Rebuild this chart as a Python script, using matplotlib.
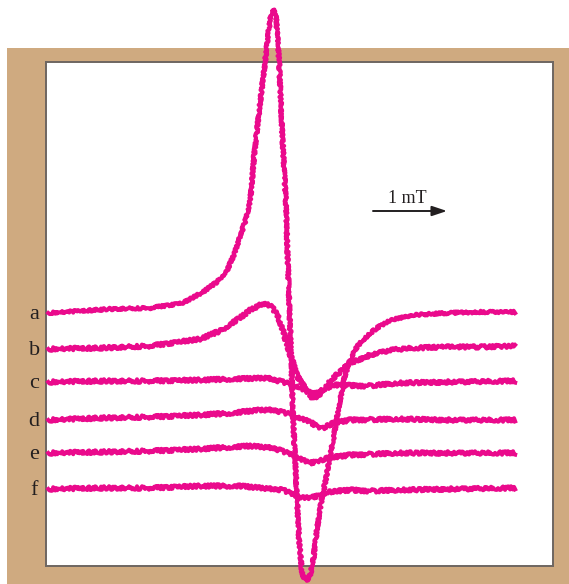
import numpy as np
import matplotlib
matplotlib.use("Agg")
import matplotlib.pyplot as plt
from matplotlib.patches import Rectangle

# Magnetic field (mT, relative) and first-derivative EPR signal (a.u.) for each sample
labels = ["a", "b", "c", "d", "e", "f"]
offsets = [253, 217, 184, 146, 113, 77]

field_a = [0.03, 0.46, 0.86, 1.41, 1.85, 2.12, 2.31, 2.45, 2.55, 2.62, 2.69, 2.76,
           2.82, 2.89, 2.96, 3.00, 3.04, 3.07, 3.11, 3.15, 3.19, 3.24, 3.28, 3.31,
           3.34, 3.38, 3.42, 3.46, 3.50, 3.54, 3.58, 3.62, 3.66, 3.73, 3.78, 3.88,
           3.96, 4.04, 4.11, 4.19, 4.28, 4.47, 4.65, 4.96, 5.42, 5.86, 6.34]
signal_a = [0, 2, 4, 5, 10, 21, 31, 43, 60, 76, 91, 113, 163, 208, 251, 278, 299,
            304, 295, 251, 183, 113, 23, -37, -107, -167, -227, -260, -267, -268,
            -259, -242, -217, -184, -167, -127, -92, -62, -47, -35, -27, -15, -7,
            -2, 0, 1, 1]

field_b = [0.03, 0.73, 1.41, 2.08, 2.35, 2.62, 2.76, 2.92, 3.00, 3.07, 3.14, 3.20,
           3.30, 3.39, 3.53, 3.61, 3.70, 3.88, 4.11, 4.38, 4.65, 4.96, 5.42, 5.86,
           6.34]
signal_b = [0, 1, 3, 10, 18, 31, 39, 45, 45, 40, 32, 19, -5, -27, -41, -50, -45,
            -29, -14, -6, -1, 1, 2, 2, 3]

field_c = [0.03, 0.73, 1.41, 2.08, 2.53, 2.99, 3.20, 3.43, 3.53, 3.61, 3.70, 3.88,
           4.34, 4.78, 5.42, 6.34]
signal_c = [0, 1, 1, 2, 3, 4, 0, -5, -10, -12, -9, -3, -4, -1, 0, 1]

field_d = [0.03, 0.73, 1.41, 2.08, 2.53, 2.89, 3.07, 3.34, 3.57, 3.68, 3.74, 3.88,
           4.11, 4.78, 5.46, 6.34]
signal_d = [0, 2, 3, 5, 7, 10, 10, 5, -2, -7, -8, -3, 0, 1, 0, 0]

field_e = [0.03, 0.73, 1.41, 2.08, 2.76, 3.07, 3.34, 3.50, 3.57, 3.68, 3.80, 4.11,
           4.78, 5.46, 6.34]
signal_e = [0, 1, 2, 4, 7, 5, -2, -8, -10, -8, -5, -2, 0, 0, 0]

field_f = [0.03, 0.73, 1.41, 2.08, 2.62, 2.76, 3.20, 3.43, 3.57, 3.70, 3.80, 4.11,
           4.38, 4.78, 5.46, 6.34]
signal_f = [0, 1, 1, 3, 3, 2, -1, -8, -9, -6, -3, -1, -2, -1, 0, 1]

fields = [field_a, field_b, field_c, field_d, field_e, field_f]
signals = [signal_a, signal_b, signal_c, signal_d, signal_e, signal_f]

# spectrometer noise texture per trace (sketch amplitude in pixels)
noise_px = [1.3, 1.8, 1.8, 1.8, 1.8, 1.8]

scale_bar_mT = 1.0

TRACE = "#EA0A8C"
FRAME = "#CFAA80"
EDGE = "#6E6661"
INK = "#231F20"

W, H = 569, 584
fig = plt.figure(figsize=(W / 100, H / 100), dpi=100)
fig.patch.set_facecolor("white")

# tan mount behind the plotting panel
fig.patches.append(Rectangle((7 / W, 0), (W - 7) / W, 536 / H,
                             transform=fig.transFigure, facecolor=FRAME,
                             edgecolor="none", zorder=-1))

ax = fig.add_axes([46 / W, 18 / H, 507 / W, 504 / H])
ax.set_facecolor("white")
ax.set_xlim(0, 507 / 74)
ax.set_ylim(0, 504)
ax.set_xticks([])
ax.set_yticks([])
for sp in ax.spines.values():
    sp.set_color(EDGE)
    sp.set_linewidth(1.4)

serif = ["Liberation Serif", "DejaVu Serif"]

for lab, off, fx, sy, nz in zip(labels, offsets, fields, signals, noise_px):
    y = np.asarray(sy, dtype=float) + off
    line, = ax.plot(fx, y, color=TRACE, lw=2.9, clip_on=False,
                    solid_joinstyle="round", zorder=3)
    line.set_sketch_params(scale=nz, length=2.5, randomness=3)
    ax.text(-0.16, off - 6, lab, ha="center", va="baseline",
            fontsize=16, family=serif, color=INK)

# field scale bar
x0 = (373 - 46) / 74
ax.annotate("", xy=(x0 + scale_bar_mT, 355), xytext=(x0, 355),
            arrowprops=dict(arrowstyle="-|>,head_length=0.9,head_width=0.3",
                            color=INK, lw=1.4, shrinkA=0, shrinkB=0))
ax.text(x0 + 0.47, 363, "1 mT", ha="center", va="baseline",
        fontsize=13, family=serif, color=INK)

fig.savefig("out.png", dpi=100)
